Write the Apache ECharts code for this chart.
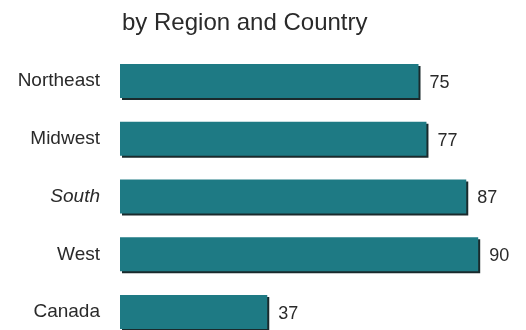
<!DOCTYPE html>
<html>
<head>
<meta charset="utf-8">
<script src="https://cdn.jsdelivr.net/npm/echarts@6/dist/echarts.min.js"></script>
<style>html,body{margin:0;padding:0;background:#fff}#c{width:526px;height:330px}</style>
</head>
<body>
<div id="c"></div>
<script>
const titleText = 'by Region and Country';
const categories = ['Northeast', 'Midwest', 'South', 'West', 'Canada'];
const values = [75, 77, 87, 90, 37];

const chart = echarts.init(document.getElementById('c'), null, {renderer: 'canvas'});
chart.setOption({
  animation: false,
  backgroundColor: '#fff',
  title: {
    text: titleText,
    left: 117, top: 6,
    textStyle: {fontFamily: 'Liberation Sans, Arial, sans-serif', fontSize: 24, fontWeight: 'normal', color: '#2a2a2a'}
  },
  grid: {left: 120, top: 52, width: 398, height: 289, outerBoundsMode: 'none', containLabel: false},
  xAxis: {
    type: 'value', min: 0, max: 100, show: false
  },
  yAxis: {
    type: 'category', data: categories, inverse: true,
    axisLine: {show: false}, axisTick: {show: false},
    axisLabel: {
      margin: 20,
      fontFamily: 'Liberation Sans, Arial, sans-serif', fontSize: 19, color: '#2a2a2a',
      formatter: function (v) { return v === 'South' ? '{it|' + v + '}' : v; },
      rich: {it: {fontStyle: 'italic', fontFamily: 'Liberation Sans, Arial, sans-serif', fontSize: 19, color: '#2a2a2a'}}
    }
  },
  series: [{
    type: 'bar', data: values, barWidth: 34,
    itemStyle: {
      color: '#1e7a84',
      shadowColor: '#1a2a2c', shadowOffsetX: 2, shadowOffsetY: 2, shadowBlur: 0
    },
    label: {
      show: true, position: 'right', distance: 11, offset: [0, 2],
      fontFamily: 'Liberation Sans, Arial, sans-serif', fontSize: 18, color: '#2a2a2a'
    }
  }]
});
</script>
</body>
</html>
